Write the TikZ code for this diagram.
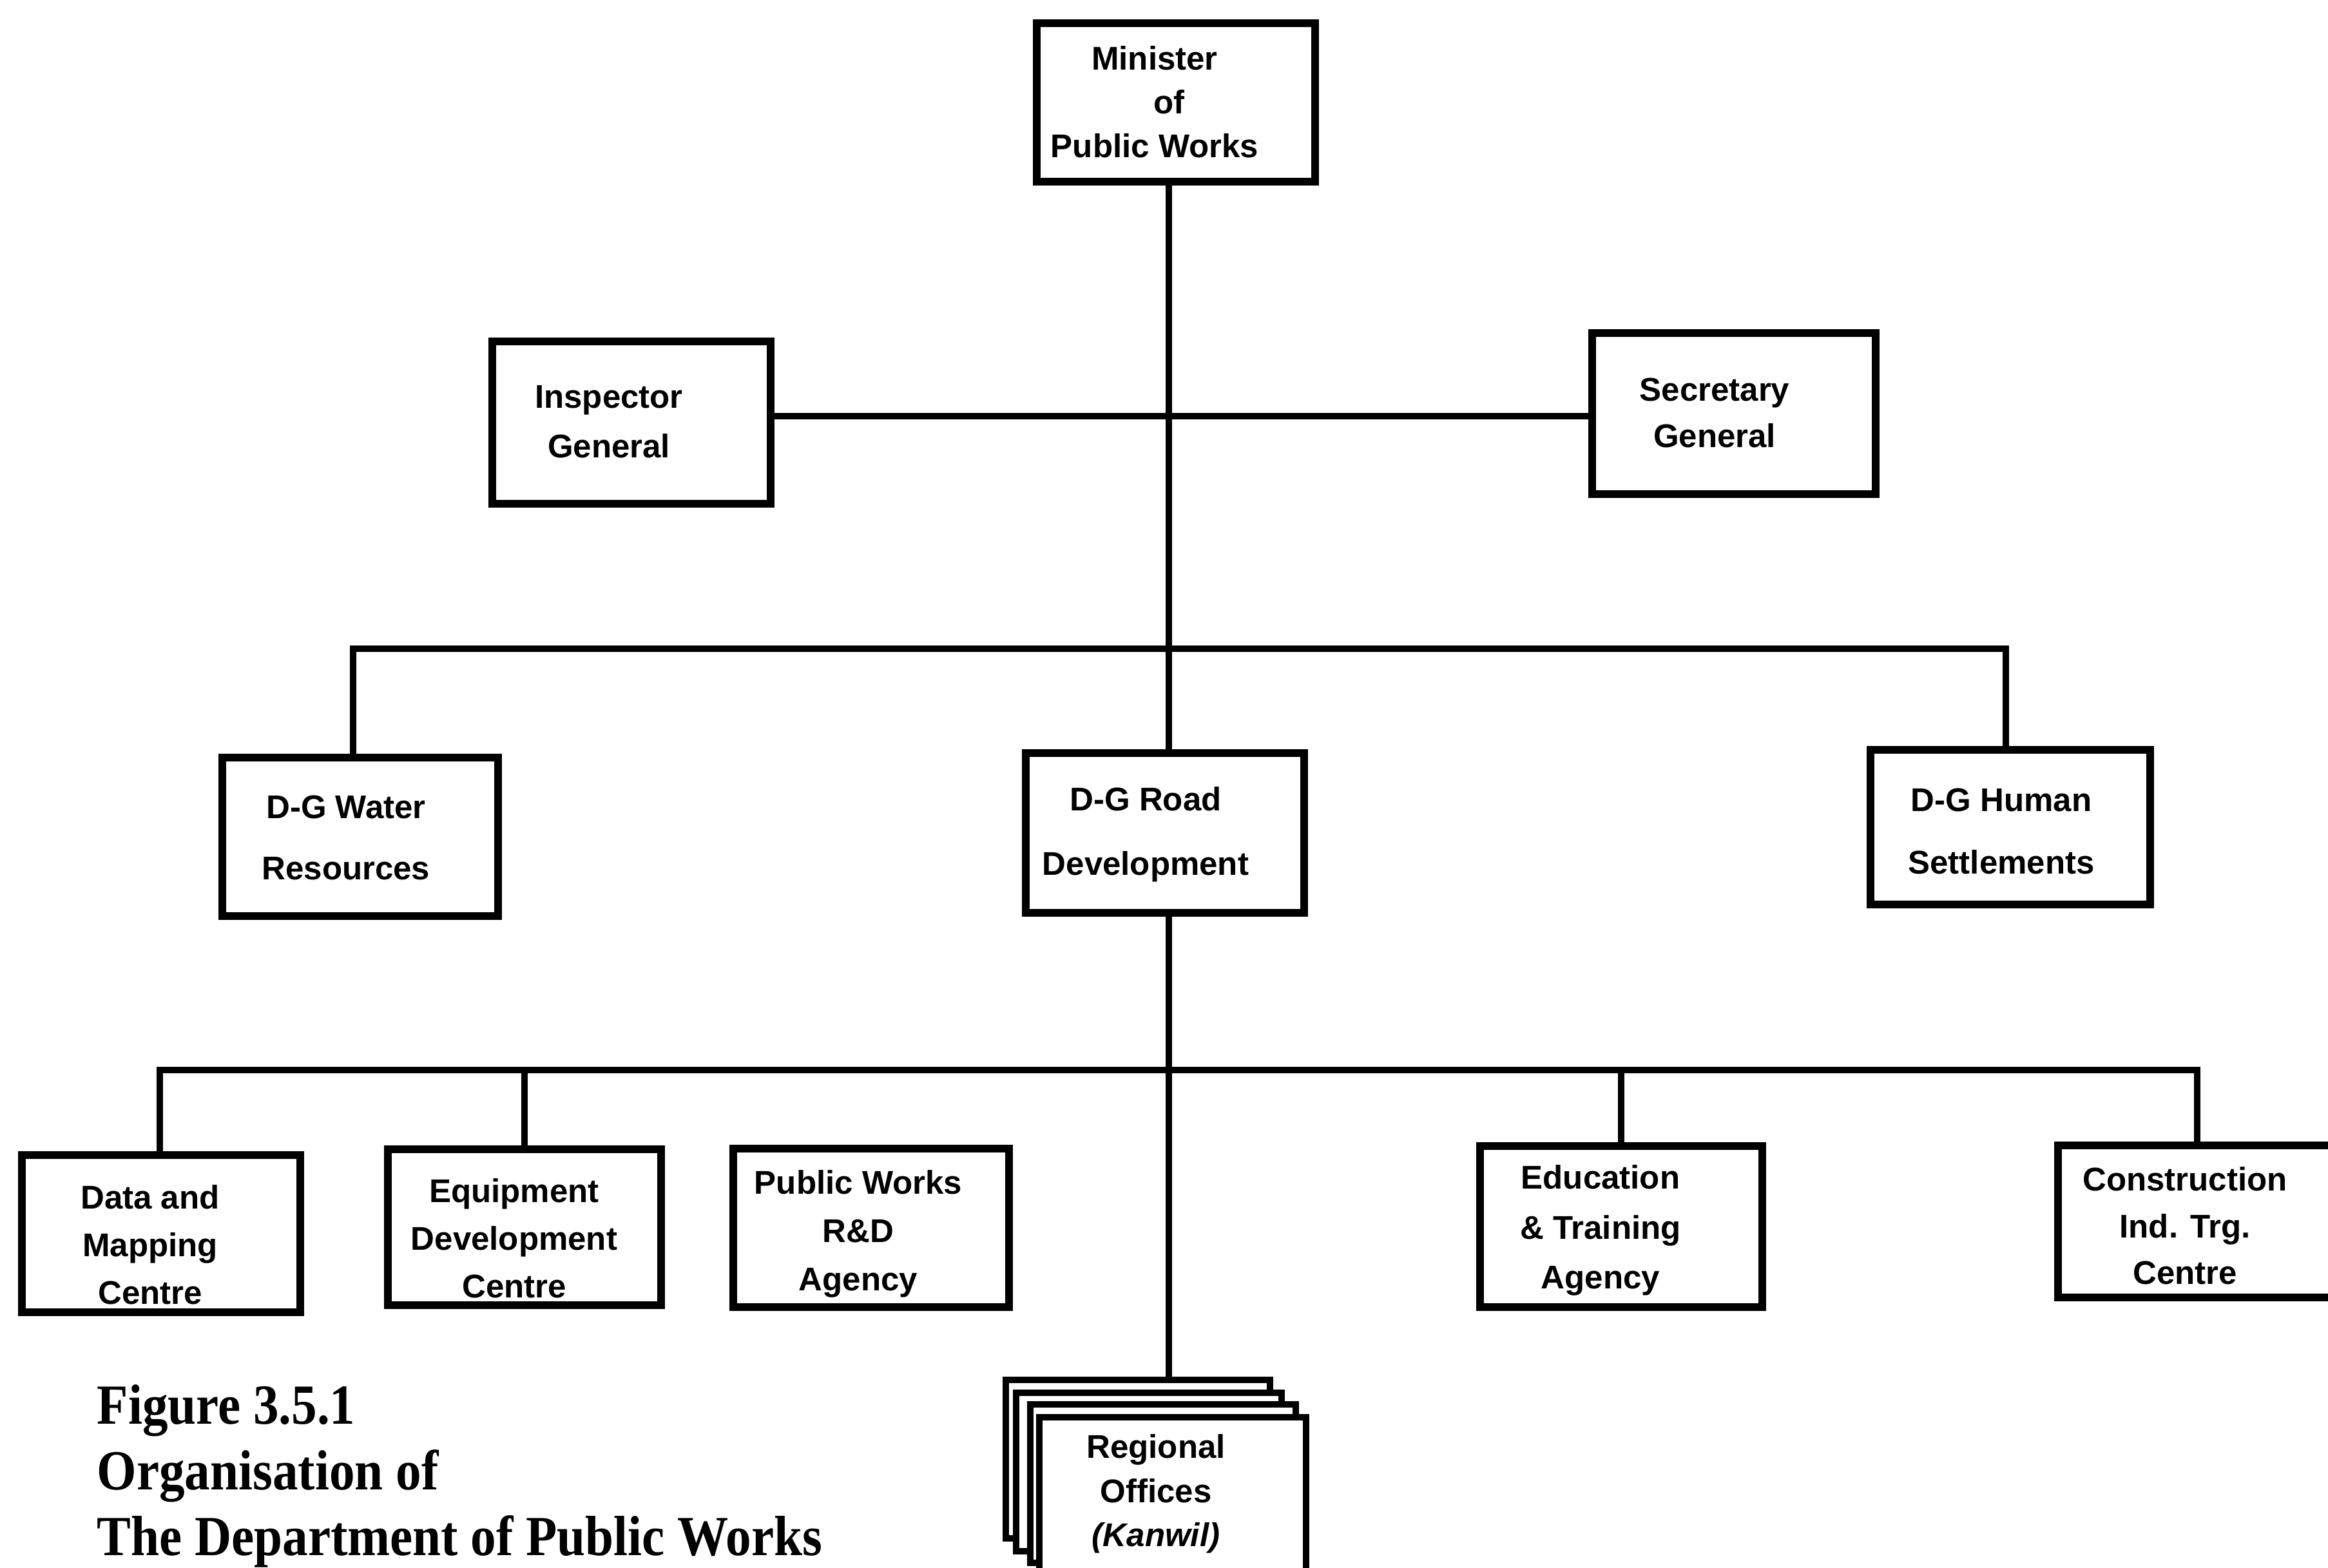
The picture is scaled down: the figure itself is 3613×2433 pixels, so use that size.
\documentclass[tikz,border=0pt]{standalone}
\usepackage{fontspec}
\setmainfont{Liberation Sans}
\newfontfamily\capfont[FakeStretch=0.9]{Liberation Serif}
\tikzset{
  box/.style={draw, line width=3.4pt, inner sep=0pt, outer sep=0pt, fill=white},
  rbox/.style={box, line width=2.8pt},
  conn/.style={line width=2.6pt},
  lbl/.style={align=center, inner sep=0pt, font=\bfseries\fontsize{14.5}{21}\selectfont},
  lblw/.style={align=center, inner sep=0pt, font=\bfseries\fontsize{14.5}{28.5}\selectfont},
}
\begin{document}
\begin{tikzpicture}[x=0.01cm, y=-0.01cm]
\useasboundingbox (0,0) rectangle (3613,2433);
\clip (0,0) rectangle (3613,2433);

% boxes
\node[box, minimum width=4.32cm, minimum height=2.46cm] (min) at (1825,159) {};
\node[box, minimum width=4.32cm, minimum height=2.51cm] (insp) at (980,656) {};
\node[box, minimum width=4.40cm, minimum height=2.49cm] (sec) at (2691,642) {};
\node[box, minimum width=4.28cm, minimum height=2.46cm] (water) at (559,1299) {};
\node[box, minimum width=4.31cm, minimum height=2.48cm] (road) at (1808,1293) {};
\node[box, minimum width=4.33cm, minimum height=2.39cm] (human) at (3120,1284) {};
\node[box, minimum width=4.32cm, minimum height=2.43cm] (data) at (250,1915) {};
\node[box, minimum width=4.23cm, minimum height=2.41cm] (equip) at (814,1905) {};
\node[box, minimum width=4.27cm, minimum height=2.46cm] (prd) at (1352,1906) {};
\node[box, minimum width=4.37cm, minimum height=2.50cm] (edu) at (2516,1904) {};
\node[box, minimum width=4.59cm, minimum height=2.36cm] (cons) at (3424,1896) {};
\node[rbox, minimum width=4.10cm, minimum height=2.46cm] (r1) at (1766,2265) {};
\node[rbox, minimum width=4.11cm, minimum height=2.46cm] (r2) at (1783,2285) {};
\node[rbox, minimum width=4.12cm, minimum height=2.46cm] (r3) at (1805,2303) {};
\node[rbox, minimum width=4.13cm, minimum height=2.50cm] (r4) at (1820,2325) {};

% connector coordinates
\coordinate (tr) at (1814,0);
\coordinate (hy) at (0,646);
\coordinate (b1) at (0,1007);
\coordinate (b2) at (0,1661);
\coordinate (dw) at (548,0);
\coordinate (dh) at (3113,0);
\coordinate (dd) at (248,0);
\coordinate (de) at (814,0);
\coordinate (du) at (2516,0);
\coordinate (dc) at (3410,0);

% connectors
\draw[conn] (min.south -| tr) -- (road.north -| tr);
\draw[conn] (insp.east |- hy) -- (sec.west |- hy);
\draw[conn] (water.north -| dw) -- (b1 -| dw) -- (b1 -| dh) -- (human.north -| dh);
\draw[conn] (road.south -| tr) -- (r1.north -| tr);
\draw[conn] (data.north -| dd) -- (b2 -| dd) -- (b2 -| dc) -- (cons.north -| dc);
\draw[conn] (b2 -| de) -- (equip.north -| de);
\draw[conn] (b2 -| du) -- (edu.north -| du);

% labels
\node[lbl, font=\bfseries\fontsize{14.5}{19.4}\selectfont] (t-min) at (1792,158) {Minister\\\hspace*{13pt}of\\Public Works};
\node[lbl, font=\bfseries\fontsize{14.5}{21.9}\selectfont] (t-insp) at (945,655) {Inspector\\General};
\node[lbl, font=\bfseries\fontsize{14.5}{20.5}\selectfont] (t-sec) at (2661,641) {Secretary\\General};
\node[lblw, font=\bfseries\fontsize{14.5}{27}\selectfont] (t-water) at (537,1300) {D-G Water\\Resources};
\node[lblw] (t-road) at (1778,1295) {D-G Road\\Development};
\node[lblw, font=\bfseries\fontsize{14.5}{27.6}\selectfont] (t-human) at (3106,1290) {D-G Human\\Settlements};
\node[lbl] (t-data) at (233,1932) {Data and\\Mapping\\Centre};
\node[lbl] (t-equip) at (798,1922) {Equipment\\Development\\Centre};
\node[lbl, font=\bfseries\fontsize{14.5}{21.3}\selectfont] (t-prd) at (1332,1915) {Public Works\\R\&D\\Agency};
\node[lbl, font=\bfseries\fontsize{14.5}{22}\selectfont] (t-edu) at (2484,1910) {Education\\\& Training\\Agency};
\node[lbl, font=\bfseries\fontsize{14.5}{20.6}\selectfont] (t-cons) at (3391,1903) {Construction\\Ind. Trg.\\Centre};
\node[lbl, font=\bfseries\fontsize{14.5}{19.5}\selectfont] (t-reg) at (1794,2319) {Regional\\Offices\\\textit{(Kanwil)}};

% caption
\node[anchor=north west, align=left, inner sep=0pt, font=\capfont\bfseries\fontsize{25}{29}\selectfont] (cap) at (150,2149)
  {Figure 3.5.1\\Organisation of\\The Department of Public Works};
\end{tikzpicture}
\end{document}
